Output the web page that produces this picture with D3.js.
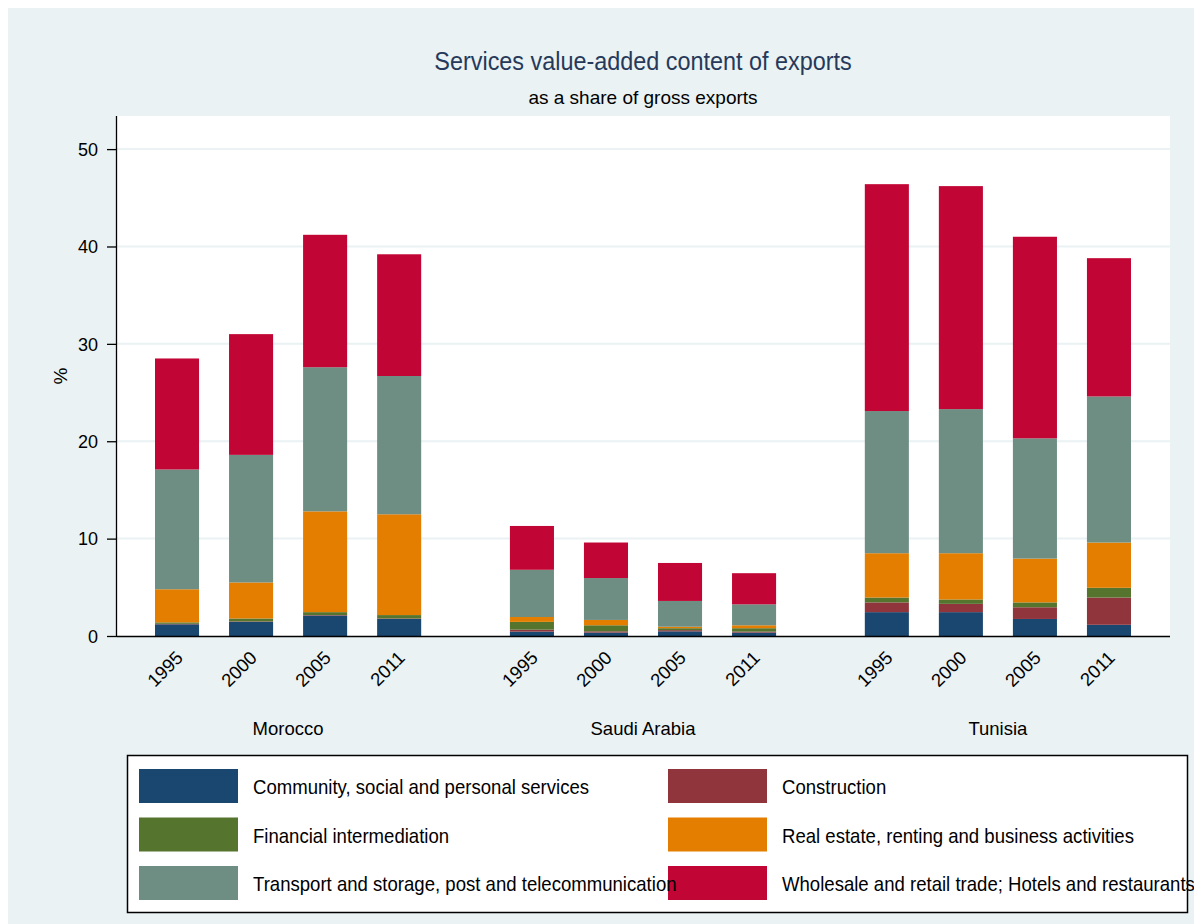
<!DOCTYPE html>
<html><head><meta charset="utf-8">
<script src="https://cdn.jsdelivr.net/npm/d3@7"></script>
<style>
body{margin:0;background:#fff;}
svg{display:block;}
text{font-family:"Liberation Sans Narrow","Liberation Sans",Arial,sans-serif;}
</style></head>
<body><svg id="chart" width="1194" height="924"></svg>
<script>
const countries = ["Morocco", "Saudi Arabia", "Tunisia"];
const years = ["1995", "2000", "2005", "2011"];
const seriesNames = [
  "Community, social and personal services",
  "Construction",
  "Financial intermediation",
  "Real estate, renting and business activities",
  "Transport and storage, post and telecommunication",
  "Wholesale and retail trade; Hotels and restaurants"
];
const seriesColors = ["#1a476f", "#90353b", "#55752f", "#e37e00", "#6e8e84", "#c10534"];
// values per country, per year (in years order)
const community   = {"Morocco":[1.2,1.45,2.1,1.75], "Saudi Arabia":[0.45,0.35,0.48,0.35], "Tunisia":[2.45,2.45,1.75,1.15]};
const construction= {"Morocco":[0.05,0.05,0.05,0.05], "Saudi Arabia":[0.2,0.13,0.12,0.1], "Tunisia":[1.0,0.85,1.2,2.8]};
const financial   = {"Morocco":[0.15,0.3,0.3,0.35], "Saudi Arabia":[0.8,0.62,0.2,0.35], "Tunisia":[0.5,0.45,0.5,1.0]};
const realEstate  = {"Morocco":[3.4,3.7,10.35,10.35], "Saudi Arabia":[0.5,0.55,0.15,0.3], "Tunisia":[4.55,4.75,4.5,4.65]};
const transport   = {"Morocco":[12.3,13.1,14.8,14.2], "Saudi Arabia":[4.85,4.3,2.65,2.15], "Tunisia":[14.6,14.8,12.35,15.0]};
const wholesale   = {"Morocco":[11.4,12.4,13.6,12.5], "Saudi Arabia":[4.5,3.65,3.9,3.2], "Tunisia":[23.3,22.9,20.7,14.2]};
const yTicks = [0, 10, 20, 30, 40, 50];
const titleText = "Services value-added content of exports";
const subtitleText = "as a share of gross exports";
const yLabel = "%";

const seriesData = [community, construction, financial, realEstate, transport, wholesale];

const svg = d3.select("#chart");
svg.append("rect").attr("x",8).attr("y",8).attr("width",1186).attr("height",916).attr("fill","#eaf2f3");

const plot = {left:117, right:1170, top:116, bottom:636};
svg.append("rect").attr("x",plot.left).attr("y",plot.top).attr("width",plot.right-plot.left).attr("height",plot.bottom-plot.top).attr("fill","#fff");

const y = d3.scaleLinear().domain([0, 53.4]).range([plot.bottom, plot.top]);
const xOuter = d3.scaleBand().domain(countries).range([155, 1131]).paddingInner(0.25).paddingOuter(0);
const xInner = d3.scaleBand().domain(years).range([0, xOuter.bandwidth()]).paddingInner(0.405).paddingOuter(0);

// narrow text helper
function ntext(parent, x, yy, str, size, sx, anchor, fill, rot){
  const g = parent.append("g").attr("transform",`translate(${x},${yy})${rot?` rotate(${rot})`:""} scale(${sx},1)`);
  return g.append("text").attr("text-anchor",anchor||"start").attr("font-size",size).attr("fill",fill||"#000").text(str);
}

// gridlines
svg.append("g").selectAll("line").data(yTicks.filter(d=>d>0)).join("line")
  .attr("x1",plot.left).attr("x2",plot.right)
  .attr("y1",d=>y(d)).attr("y2",d=>y(d))
  .attr("stroke","#eaf2f3").attr("stroke-width",2);

// stacked data
const rows = [];
countries.forEach(c=>{
  years.forEach((yr,i)=>{
    const r = {country:c, year:yr};
    seriesNames.forEach((s,k)=>{ r[s] = seriesData[k][c][i]; });
    rows.push(r);
  });
});
const stack = d3.stack().keys(seriesNames)(rows);

const barsG = svg.append("g");
stack.forEach((layer,k)=>{
  barsG.append("g").attr("fill",seriesColors[k]).selectAll("rect").data(layer).join("rect")
    .attr("x",d=>xOuter(d.data.country)+xInner(d.data.year))
    .attr("width",xInner.bandwidth())
    .attr("y",d=>y(d[1]))
    .attr("height",d=>Math.max(0,y(d[0])-y(d[1])));
});

// y axis
const yAxis = d3.axisLeft(y).tickValues(yTicks).tickSize(10).tickPadding(9);
const ya = svg.append("g").attr("transform",`translate(${plot.left},0)`).call(yAxis);
ya.select(".domain").attr("d",`M-0.5,${plot.top}V${plot.bottom}`).attr("stroke","#000").attr("stroke-width",1.3);
ya.selectAll(".tick line").attr("stroke","#000").attr("stroke-width",1.3);
ya.selectAll(".tick text").attr("font-size",18).attr("fill","#000").attr("dy","0.35em")
  .attr("font-family","'Liberation Sans',Arial,sans-serif");

// x axis baseline
svg.append("line").attr("x1",plot.left).attr("x2",plot.right).attr("y1",plot.bottom+0.5).attr("y2",plot.bottom+0.5).attr("stroke","#000").attr("stroke-width",1.5);

// x tick labels
const xl = svg.append("g");
countries.forEach(c=>{
  years.forEach(yr=>{
    const cx = xOuter(c)+xInner(yr)+xInner.bandwidth()/2;
    xl.append("text").attr("transform",`translate(${cx+7},${plot.bottom+23}) rotate(-45)`)
      .attr("text-anchor","end").attr("font-size",18.5).text(yr);
  });
  xl.append("text").attr("x",xOuter(c)+xOuter.bandwidth()/2).attr("y",735)
    .attr("text-anchor","middle").attr("font-size",18.5).text(c);
});

// y label
svg.append("text").attr("transform","translate(67,376) rotate(-90)").attr("text-anchor","middle").attr("font-size",19).text(yLabel);

// titles
ntext(svg, 643, 70, titleText, 26, 0.9, "middle", "#26395a");
svg.append("text").attr("x",643).attr("y",104).attr("text-anchor","middle").attr("font-size",19).attr("fill","#000").text(subtitleText);

// legend
const lg = svg.append("g");
lg.append("rect").attr("x",127.5).attr("y",755.5).attr("width",1060).attr("height",157).attr("fill","#fff").attr("stroke","#000").attr("stroke-width",1.5);
seriesNames.forEach((s,i)=>{
  const col = i%2, row = Math.floor(i/2);
  const sx = col===0 ? 139 : 668;
  const sy = 769 + row*48.5;
  lg.append("rect").attr("x",sx).attr("y",sy).attr("width",99).attr("height",34).attr("fill",seriesColors[i]);
});
seriesNames.forEach((s,i)=>{
  const col = i%2, row = Math.floor(i/2);
  const sx = col===0 ? 139 : 668;
  const sy = 769 + row*48.5;
  ntext(lg, sx+114, sy+25, s, 21, 0.885, "start", "#000");
});
</script></body></html>
